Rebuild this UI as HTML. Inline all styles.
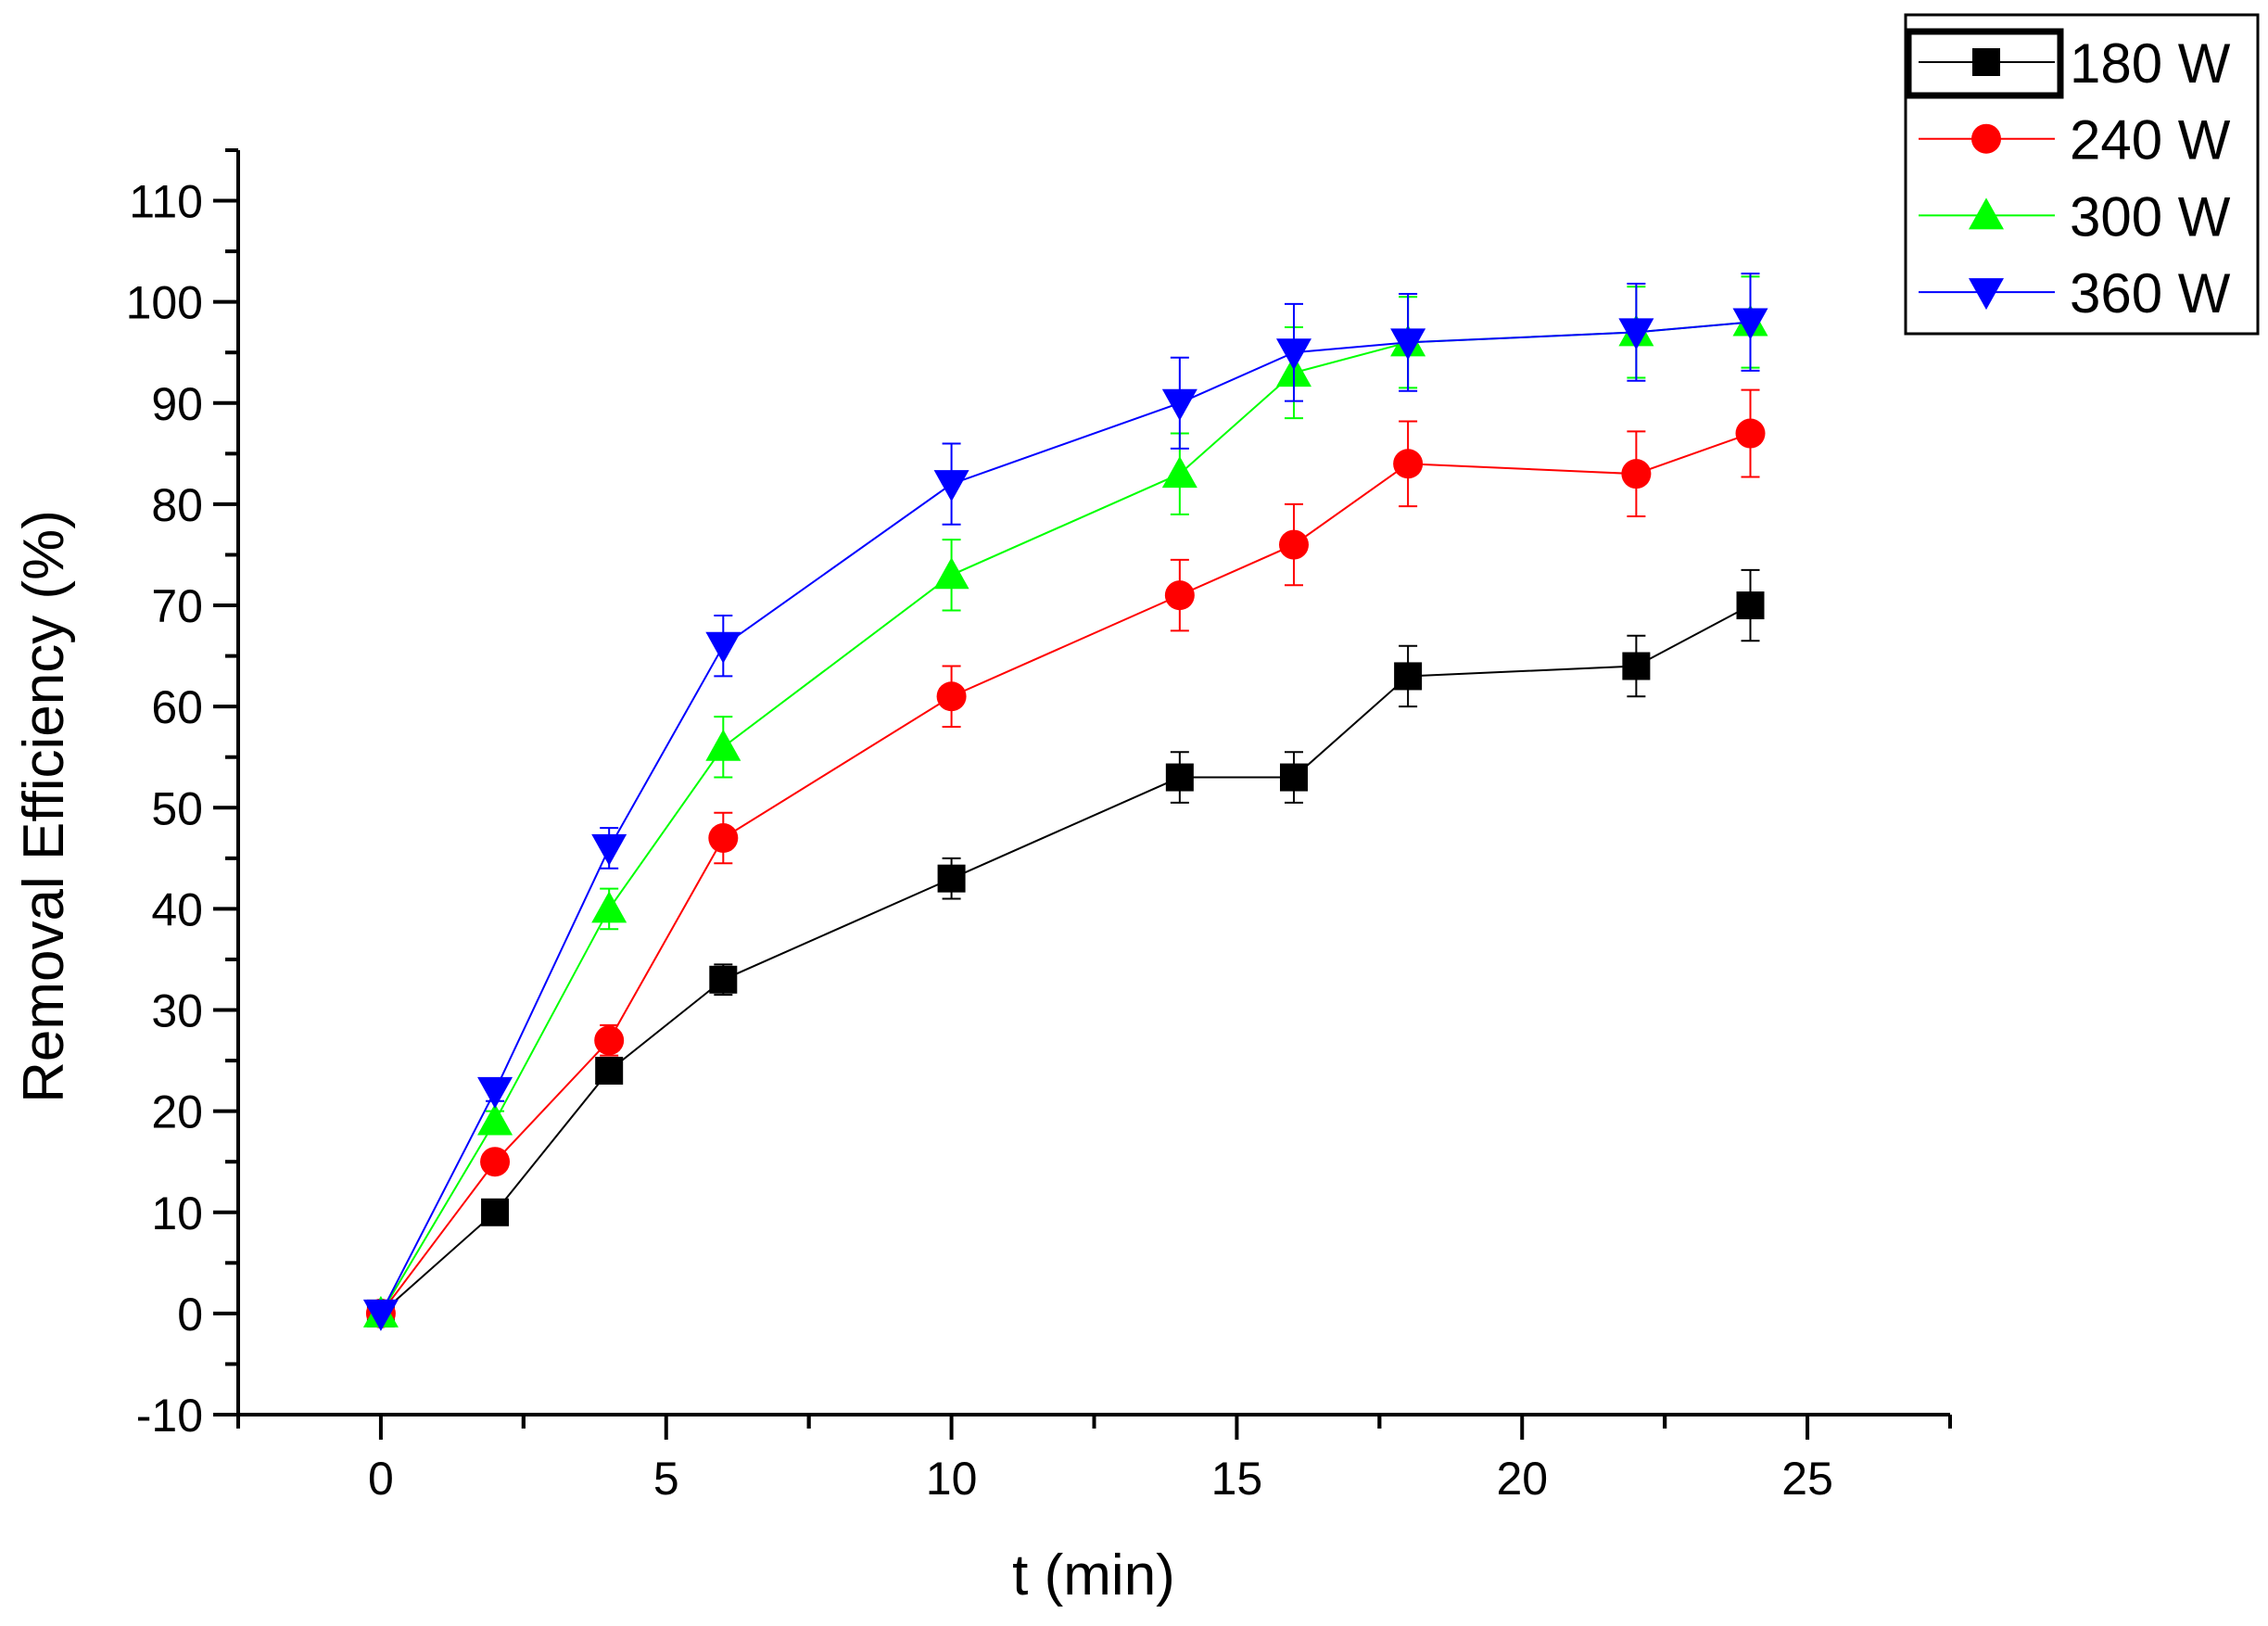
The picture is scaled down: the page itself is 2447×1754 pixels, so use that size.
<!DOCTYPE html>
<html><head><meta charset="utf-8"><style>
html,body{margin:0;padding:0;background:#fff;}
svg{display:block;font-family:"Liberation Sans",Arial,sans-serif;}
</style></head><body>
<svg id="chart" width="2447" height="1754" viewBox="0 0 2447 1754" xmlns="http://www.w3.org/2000/svg">
<g id="axes"></g>
<g id="series"></g>
<text transform="translate(68,870) rotate(-90)" text-anchor="middle" font-size="62">Removal Efficiency (%)</text>
<text x="1180" y="1720" text-anchor="middle" font-size="62">t (min)</text>
<g id="legend"></g>
</svg>
<script>
const times = [0,2,4,6,10,14,16,18,22,24];
const s180 = [0,10,24,33,43,53,53,63,64,70];
const e180 = [0,1,1,1.5,2,2.5,2.5,3,3,3.5];
const s240 = [0,15,27,47,61,71,76,84,83,87];
const e240 = [0,1,1.5,2.5,3,3.5,4,4.2,4.2,4.3];
const s300 = [0,19,40,56,73,83,93,96,97,98];
const e300 = [0,1,2,3,3.5,4,4.5,4.5,4.5,4.5];
const s360 = [0,22,46,66,82,90,95,96,97,98];
const e360 = [0,1,2,3,4,4.5,4.8,4.8,4.8,4.8];
const yTicks = [-10,0,10,20,30,40,50,60,70,80,90,100,110];
const xTicks = [0,5,10,15,20,25];
const seriesNames = ["180 W","240 W","300 W","360 W"];

const NS="http://www.w3.org/2000/svg";
const X0=257,X1=2104,XMIN=-2.5,XMAX=27.5;
const YB=1526,YMIN=-10,YT=162,YMAX=115;
const xs=v=>X0+(v-XMIN)/(XMAX-XMIN)*(X1-X0);
const ys=v=>YB-(v-YMIN)/(YMAX-YMIN)*(YB-YT);
function mk(tag,attrs,parent){const e=document.createElementNS(NS,tag);for(const k in attrs)e.setAttribute(k,attrs[k]);parent.appendChild(e);return e;}
const axes=document.getElementById('axes');
let el=mk('line',{x1:X0,y1:YB,x2:X0,y2:YT,stroke:'#000','stroke-width':4},axes);


el=mk('line',{x1:X0-2,y1:YB,x2:X1,y2:YB,stroke:'#000','stroke-width':4},axes);


yTicks.forEach(v=>{
  const y=ys(v);
  const t=mk('line',{x1:X0-27,y1:y,x2:X0,y2:y,stroke:'#000','stroke-width':4},axes);
  
  
  const m=mk('line',{x1:X0-14,y1:ys(v+5),x2:X0,y2:ys(v+5),stroke:'#000','stroke-width':4},axes);
  
  
  const l=mk('text',{x:X0-38,y:y+18,'text-anchor':'end','font-size':50},axes);
  l.textContent=v;
  
  
});
xTicks.forEach(v=>{
  const x=xs(v);
  const t=mk('line',{x1:x,y1:YB,x2:x,y2:YB+27,stroke:'#000','stroke-width':4},axes);
  
  
  [v-2.5,v+2.5].forEach(m=>{if(m>=XMIN&&m<=XMAX){
    const mm=mk('line',{x1:xs(m),y1:YB,x2:xs(m),y2:YB+15,stroke:'#000','stroke-width':4},axes);
    
    }});
  const l=mk('text',{x:x,y:YB+86,'text-anchor':'middle','font-size':50},axes);
  l.textContent=v;
  
  
});
function marker(shape,x,y,color,parent){
  let e;
  if(shape==='square') e=mk('rect',{x:x-15,y:y-15,width:30,height:30,fill:color},parent);
  else if(shape==='circle') e=mk('circle',{cx:x,cy:y,r:16,fill:color},parent);
  else if(shape==='up') e=mk('polygon',{points:`${x-19},${y+15} ${x+19},${y+15} ${x},${y-19}`,fill:color},parent);
  else e=mk('polygon',{points:`${x-19},${y-15} ${x+19},${y-15} ${x},${y+19}`,fill:color},parent);
  return e;
}
const defs=[[s180,e180,'#000','square'],[s240,e240,'#ff0000','circle'],[s300,e300,'#00ff00','up'],[s360,e360,'#0000ff','down']];
const sg=document.getElementById('series');
defs.forEach((d,i)=>{
  const [vals,errs,col,shape]=d;
  const g=mk('g',{},sg);
  
  
  const pl=mk('polyline',{points:times.map((t,j)=>xs(t)+','+ys(vals[j])).join(' '),fill:'none',stroke:col,'stroke-width':2},g);
  
  
  times.forEach((t,j)=>{
    const x=xs(t);
    if(errs[j]>0){
      const p=mk('path',{d:`M${x},${ys(vals[j]-errs[j])}V${ys(vals[j]+errs[j])}M${x-10},${ys(vals[j]-errs[j])}H${x+10}M${x-10},${ys(vals[j]+errs[j])}H${x+10}`,stroke:col,'stroke-width':2,fill:'none'},g);
      
      
    }
    const m=marker(shape,x,ys(vals[j]),col,g);
    
    
  });
});
const lg=document.getElementById('legend');
el=mk('rect',{x:2056,y:16,width:380,height:344,fill:'#fff',stroke:'#000','stroke-width':3},lg);


el=mk('rect',{x:2059,y:34,width:164,height:69,fill:'none',stroke:'#000','stroke-width':7},lg);


defs.forEach((d,i)=>{
  const y=67+i*82.7;
  const g=mk('g',{},lg);
  
  
  mk('line',{x1:2070,y1:y,x2:2217,y2:y,stroke:d[2],'stroke-width':2},g);
  marker(d[3],2143,y,d[2],g);
  const t=mk('text',{x:2233,y:y+22,'font-size':60},g);
  t.textContent=seriesNames[i];
});
</script>
</body></html>
